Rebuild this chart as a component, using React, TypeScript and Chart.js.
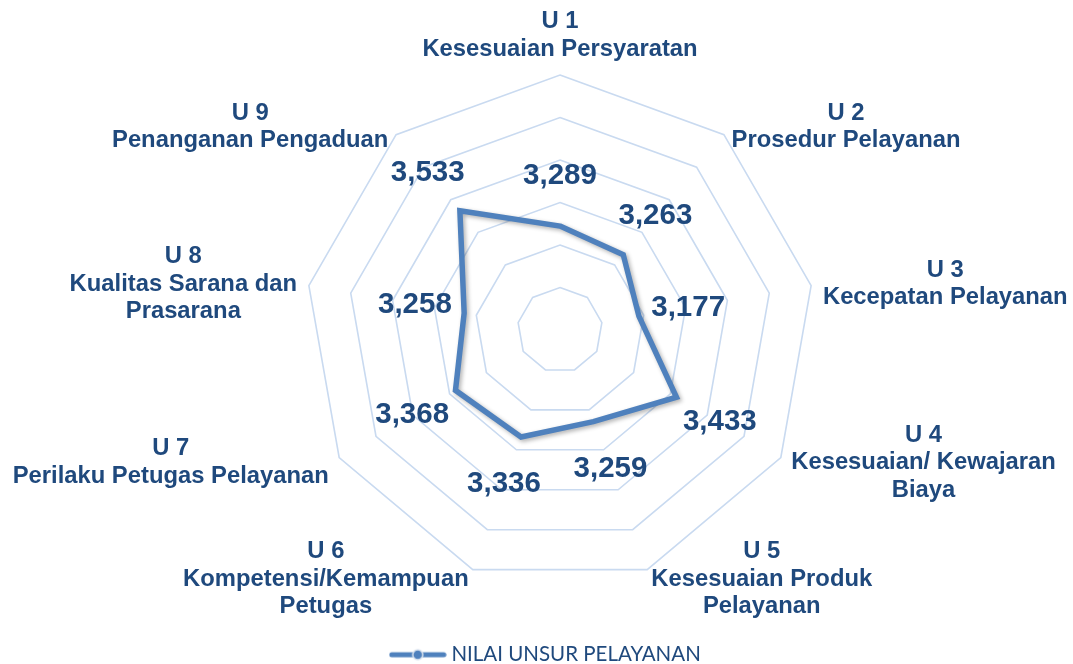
import React, { useEffect, useRef } from 'react';
import { Chart, registerables } from 'chart.js';

Chart.register(...registerables);

// ---- data ----
const categoryLines: string[][] = [
  ['U 1', 'Kesesuaian Persyaratan'],
  ['U 2', 'Prosedur Pelayanan'],
  ['U 3', 'Kecepatan Pelayanan'],
  ['U 4', 'Kesesuaian/ Kewajaran', 'Biaya'],
  ['U 5', 'Kesesuaian Produk', 'Pelayanan'],
  ['U 6', 'Kompetensi/Kemampuan', 'Petugas'],
  ['U 7', 'Perilaku Petugas Pelayanan'],
  ['U 8', 'Kualitas Sarana dan', 'Prasarana'],
  ['U 9', 'Penanganan Pengaduan'],
];
const values: number[] = [3.289, 3.263, 3.177, 3.433, 3.259, 3.336, 3.368, 3.258, 3.533];
const seriesName = 'NILAI UNSUR PELAYANAN';
const scaleMin = 2.8;
const scaleMax = 4.0;
const scaleStep = 0.2;

// ---- styles ----
const TEXT = '#1F497D';
const LINE = '#4F81BD';
const GRID = 'rgb(201,218,240)';
const FONT = "'Liberation Sans', Arial, sans-serif";
const AXIS_SIZE = 23.8;
const AXIS_LH = 27.5;
const VALUE_SIZE = 29.5;

const fmt = (v: number) => v.toFixed(3).replace('.', ',');

function makeLegendMarker(): HTMLCanvasElement {
  const c = document.createElement('canvas');
  c.width = 58;
  c.height = 14;
  const ctx = c.getContext('2d')!;
  ctx.strokeStyle = LINE;
  ctx.lineWidth = 5;
  ctx.lineCap = 'round';
  ctx.beginPath();
  ctx.moveTo(3, 7);
  ctx.lineTo(55, 7);
  ctx.stroke();
  ctx.beginPath();
  ctx.arc(29, 7, 5, 0, Math.PI * 2);
  ctx.fillStyle = LINE;
  ctx.fill();
  ctx.lineWidth = 1.5;
  ctx.strokeStyle = '#dde5ef';
  ctx.stroke();
  return c;
}

const shadowPlugin = {
  id: 'lineShadow',
  beforeDatasetDraw(chart: any) {
    const ctx = chart.ctx;
    ctx.save();
    ctx.shadowColor = 'rgba(0,0,0,0.3)';
    ctx.shadowBlur = 4;
    ctx.shadowOffsetX = 2;
    ctx.shadowOffsetY = 2;
  },
  afterDatasetDraw(chart: any) {
    chart.ctx.restore();
  },
};

const labelsPlugin = {
  id: 'excelLabels',
  afterDatasetsDraw(chart: any) {
    const ctx = chart.ctx;
    const scale = chart.scales.r;
    ctx.save();
    ctx.fillStyle = TEXT;
    ctx.textAlign = 'center';
    ctx.textBaseline = 'middle';
    ctx.font = `bold ${AXIS_SIZE}px ${FONT}`;
    (chart.data.labels as string[][]).forEach((lines, i) => {
      const a = scale.getIndexAngle(i);
      const s = Math.sin(a);
      const c = Math.cos(a);
      const p = scale.getPointPosition(i, scale.drawingArea);
      const w = Math.max(...lines.map((l) => ctx.measureText(l).width));
      const h = lines.length * AXIS_LH;
      let cx: number;
      let cy: number;
      if (Math.abs(s) < 0.05) {
        cx = p.x;
        cy = p.y - Math.sign(c) * (12 + h / 2);
      } else {
        cx = p.x + 12 * s + Math.sign(s) * (w / 2);
        cy = p.y - 10 * c;
      }
      lines.forEach((l, j) => ctx.fillText(l, cx, cy - h / 2 + (j + 0.5) * AXIS_LH));
    });
    ctx.font = `bold ${VALUE_SIZE}px ${FONT}`;
    const meta = chart.getDatasetMeta(0);
    meta.data.forEach((pt: any, i: number) => {
      const a = scale.getIndexAngle(i);
      const v = chart.data.datasets[0].data[i] as number;
      ctx.fillText(fmt(v), pt.x + 50 * Math.sin(a), pt.y - 50 * Math.cos(a));
    });
    ctx.restore();
  },
};

export default function App() {
  const ref = useRef<HTMLCanvasElement | null>(null);
  useEffect(() => {
    if (!ref.current) return;
    const marker = makeLegendMarker();
    const chart = new Chart(ref.current, {
      type: 'radar',
      data: {
        labels: categoryLines,
        datasets: [
          {
            label: seriesName,
            data: values,
            borderColor: LINE,
            borderWidth: 5.5,
            backgroundColor: 'rgba(0,0,0,0)',
            fill: false,
            pointRadius: 0,
            pointHoverRadius: 0,
            pointStyle: marker as any,
            borderJoinStyle: 'miter',
          } as any,
        ],
      },
      options: {
        responsive: false,
        animation: false,
        events: [],
        layout: { padding: { top: 75, left: 22, right: 0, bottom: 0 } },
        scales: {
          r: {
            min: scaleMin,
            max: scaleMax,
            ticks: { display: false, stepSize: scaleStep },
            grid: { color: GRID, lineWidth: 1.6, circular: false },
            angleLines: { display: false },
            pointLabels: { display: false },
          },
        },
        plugins: {
          tooltip: { enabled: false },
          title: {
            display: true,
            position: 'left',
            text: '',
            padding: 0,
            font: { size: 25, lineHeight: 1 },
          },
          legend: {
            position: 'bottom',
            labels: {
              usePointStyle: true,
              pointStyleWidth: 47,
              padding: 59,
              color: TEXT,
              font: { family: 'Lato, sans-serif', size: 20.5 },
            },
          },
        },
      },
      plugins: [shadowPlugin, labelsPlugin],
    });
    return () => chart.destroy();
  }, []);
  return (
    <div style={{ position: 'fixed', left: 0, top: 0, width: 1073, height: 675, background: '#fff' }}>
      <canvas ref={ref} width={1073} height={675} style={{ display: 'block' }} />
    </div>
  );
}
